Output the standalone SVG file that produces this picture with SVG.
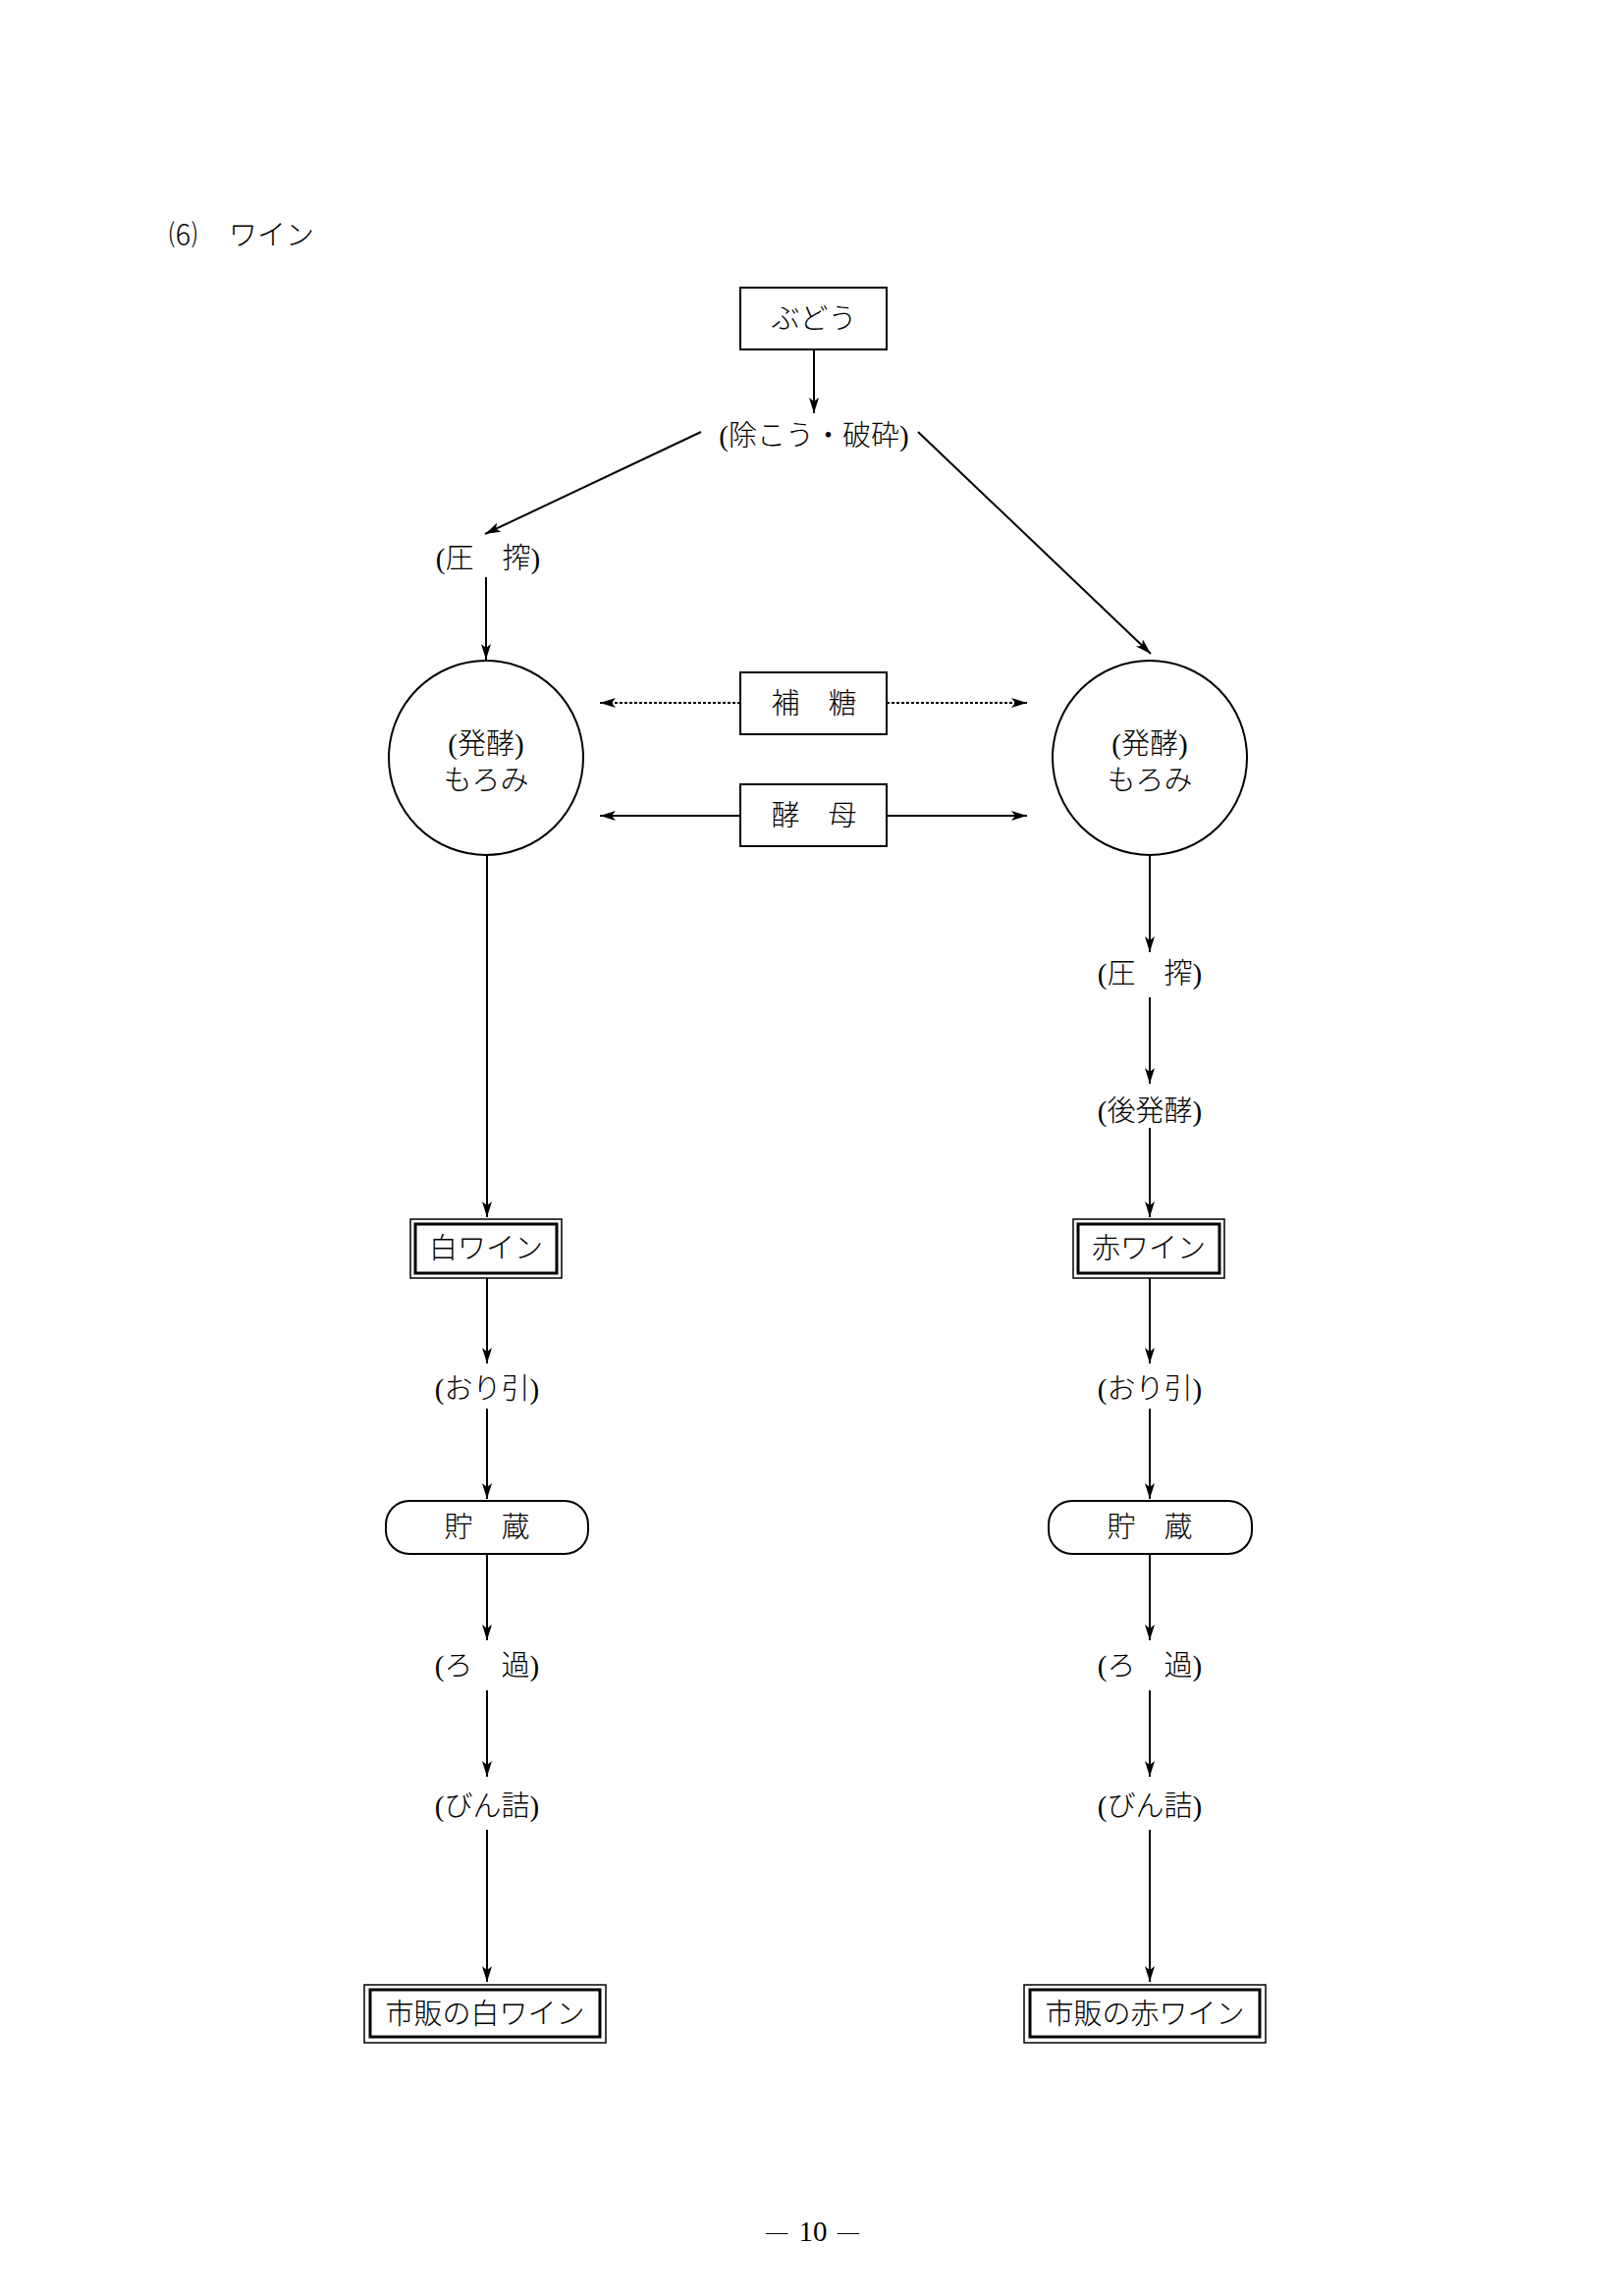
<svg xmlns="http://www.w3.org/2000/svg" width="1654" height="2339" viewBox="0 0 1654 2339">
<style>
.t{font-family:"Liberation Serif","Noto Sans CJK JP",serif;font-size:29px;font-weight:300;fill:#000;text-anchor:middle;dominant-baseline:central}
.b{fill:#fff;stroke:#000;stroke-width:2}
.o{fill:#fff;stroke:#000;stroke-width:1.5}
.i{fill:none;stroke:#000;stroke-width:3}
.c{stroke:#000;stroke-width:2;fill:none;marker-end:url(#ah)}
.d{stroke:#000;stroke-width:2;fill:none;stroke-dasharray:3 2;marker-end:url(#ah)}
</style>
<defs>
<marker id="ah" markerUnits="userSpaceOnUse" viewBox="0 0 16 10" refX="16" refY="5" markerWidth="16" markerHeight="10" orient="auto">
<path d="M0,0 L16,5 L0,10 L4,5 Z" fill="#000"/>
</marker>
</defs>
<rect width="1654" height="2339" fill="#fff"/>

<g id="title"><text class="t" x="172" y="240" style="text-anchor:start">⑹<tspan x="233">ワイン</tspan></text></g>

<g id="connectors">
<line class="c" x1="829" y1="357" x2="829" y2="421"/>
<line class="c" x1="714" y1="440" x2="494" y2="544"/>
<line class="c" x1="935" y1="440" x2="1172" y2="666"/>
<line class="c" x1="495" y1="588" x2="495" y2="672"/>
<line class="d" x1="754" y1="716" x2="611" y2="716"/>
<line class="d" x1="903" y1="716" x2="1046" y2="716"/>
<line class="c" x1="754" y1="831" x2="611" y2="831"/>
<line class="c" x1="903" y1="831" x2="1046" y2="831"/>
<line class="c" x1="496" y1="871" x2="496" y2="1240"/>
<line class="c" x1="1171" y1="871" x2="1171" y2="970"/>
<line class="c" x1="1171" y1="1016" x2="1171" y2="1104"/>
<line class="c" x1="1171" y1="1149" x2="1171" y2="1240"/>
<line class="c" x1="496" y1="1302" x2="496" y2="1389"/>
<line class="c" x1="1171" y1="1302" x2="1171" y2="1389"/>
<line class="c" x1="496" y1="1435" x2="496" y2="1527"/>
<line class="c" x1="1171" y1="1435" x2="1171" y2="1527"/>
<line class="c" x1="496" y1="1583" x2="496" y2="1671"/>
<line class="c" x1="1171" y1="1583" x2="1171" y2="1671"/>
<line class="c" x1="496" y1="1722" x2="496" y2="1810"/>
<line class="c" x1="1171" y1="1722" x2="1171" y2="1810"/>
<line class="c" x1="496" y1="1864" x2="496" y2="2019"/>
<line class="c" x1="1171" y1="1864" x2="1171" y2="2019"/>
</g>

<g id="budou"><rect class="b" x="754" y="293" width="149" height="63"/><text class="t" x="829" y="325">ぶどう</text></g>
<g id="jokou"><text class="t" x="829" y="444">(除こう・破砕)</text></g>
<g id="assaku-l"><text class="t" x="497" y="569">(圧　搾)</text></g>

<g id="moromi-l"><circle class="b" cx="495" cy="772" r="99"/><text class="t" x="495" y="758">(発酵)</text><text class="t" x="495" y="795">もろみ</text></g>
<g id="moromi-r"><circle class="b" cx="1171" cy="772" r="99"/><text class="t" x="1171" y="758">(発酵)</text><text class="t" x="1171" y="795">もろみ</text></g>

<g id="hotou"><rect class="b" x="754" y="685" width="149" height="63"/><text class="t" x="829" y="717">補　糖</text></g>
<g id="koubo"><rect class="b" x="754" y="799" width="149" height="63"/><text class="t" x="829" y="831">酵　母</text></g>

<g id="assaku-r"><text class="t" x="1171" y="992">(圧　搾)</text></g>
<g id="kouhakkou"><text class="t" x="1171" y="1132">(後発酵)</text></g>

<g id="shiro"><rect class="o" x="418" y="1242" width="154" height="60"/><rect class="i" x="423" y="1247" width="144" height="50"/><text class="t" x="495" y="1272">白ワイン</text></g>
<g id="aka"><rect class="o" x="1093" y="1242" width="154" height="60"/><rect class="i" x="1098" y="1247" width="144" height="50"/><text class="t" x="1170" y="1272">赤ワイン</text></g>

<g id="oribiki-l"><text class="t" x="496" y="1415">(おり引)</text></g>
<g id="oribiki-r"><text class="t" x="1171" y="1415">(おり引)</text></g>

<g id="chozou-l"><rect class="b" x="393" y="1529" width="206" height="54" rx="24" ry="24"/><text class="t" x="496" y="1556">貯　蔵</text></g>
<g id="chozou-r"><rect class="b" x="1068" y="1529" width="207" height="54" rx="24" ry="24"/><text class="t" x="1171" y="1556">貯　蔵</text></g>

<g id="roka-l"><text class="t" x="496" y="1697">(ろ　過)</text></g>
<g id="roka-r"><text class="t" x="1171" y="1697">(ろ　過)</text></g>

<g id="bindume-l"><text class="t" x="496" y="1840">(びん詰)</text></g>
<g id="bindume-r"><text class="t" x="1171" y="1840">(びん詰)</text></g>

<g id="shihan-shiro"><rect class="o" x="371" y="2022" width="246" height="59"/><rect class="i" x="377" y="2027" width="234" height="48"/><text class="t" x="494" y="2052">市販の白ワイン</text></g>
<g id="shihan-aka"><rect class="o" x="1043" y="2022" width="246" height="59"/><rect class="i" x="1049" y="2027" width="234" height="48"/><text class="t" x="1166" y="2052">市販の赤ワイン</text></g>

<g id="page"><text class="t" x="791" y="2273" style="font-size:22px">—<tspan x="828" style="font-size:29px">10</tspan><tspan x="864">—</tspan></text></g>
</svg>
